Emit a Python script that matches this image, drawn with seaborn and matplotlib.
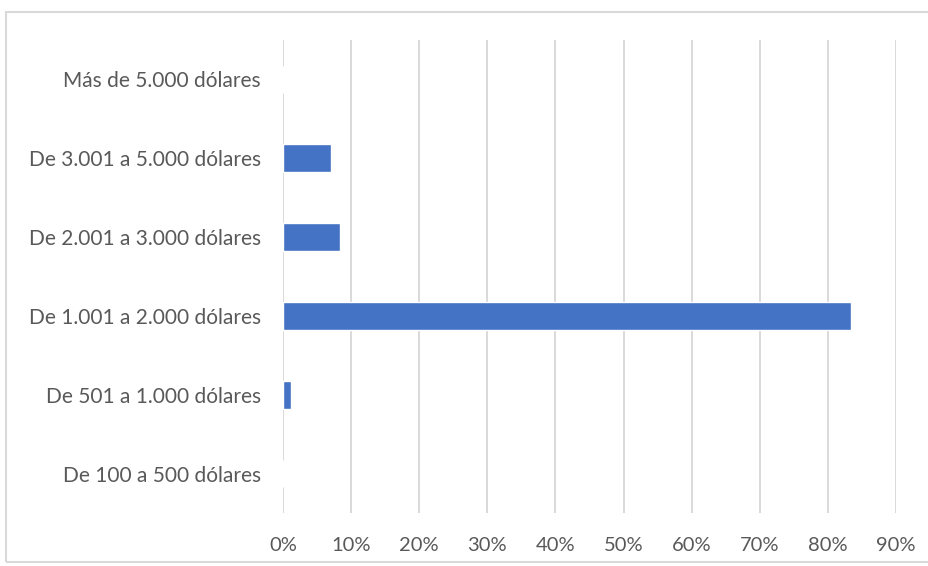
import matplotlib
matplotlib.use("Agg")
import matplotlib.pyplot as plt
from matplotlib.patches import Rectangle
from matplotlib.ticker import PercentFormatter
import seaborn as sns
import pandas as pd

# Monthly income brackets and share of respondents in each
categories = [
    "Más de 5.000 dólares",
    "De 3.001 a 5.000 dólares",
    "De 2.001 a 3.000 dólares",
    "De 1.001 a 2.000 dólares",
    "De 501 a 1.000 dólares",
    "De 100 a 500 dólares",
]
shares = [0.0, 0.071, 0.083, 0.834, 0.012, 0.0]
tick_values = [0.0, 0.1, 0.2, 0.3, 0.4, 0.5, 0.6, 0.7, 0.8, 0.9]

df = pd.DataFrame({"rango": categories, "porcentaje": shares})

sns.set_theme(style="white")
plt.rcParams["font.family"] = ["Lato", "DejaVu Sans"]

fig = plt.figure(figsize=(9.29, 5.66), dpi=100)
ax = fig.add_axes([0.3046, 0.0936, 0.66, 0.8357])

sns.barplot(data=df, x="porcentaje", y="rango", order=categories,
            color="#4472C4", width=0.35, saturation=1, ax=ax)

ax.set_xlim(0, 0.9)
ax.set_xticks(tick_values)
ax.xaxis.set_major_formatter(PercentFormatter(1.0, decimals=0))
ax.grid(axis="x", color="#D9D9D9", linewidth=1.4)
ax.set_axisbelow(True)
for s in ax.spines.values():
    s.set_visible(False)
ax.set_xlabel("")
ax.set_ylabel("")
ax.tick_params(axis="x", length=0, pad=17, labelsize=14.5, labelcolor="#595959")
ax.tick_params(axis="y", length=0, pad=16, labelsize=15, labelcolor="#595959")

# Light outer frame around the chart area
fig.add_artist(Rectangle((0.0065, 0.007), 1.1, 0.972, transform=fig.transFigure,
                         fill=False, edgecolor="#D9D9D9", linewidth=1.5))

fig.savefig("out.png", dpi=100, facecolor="white")
